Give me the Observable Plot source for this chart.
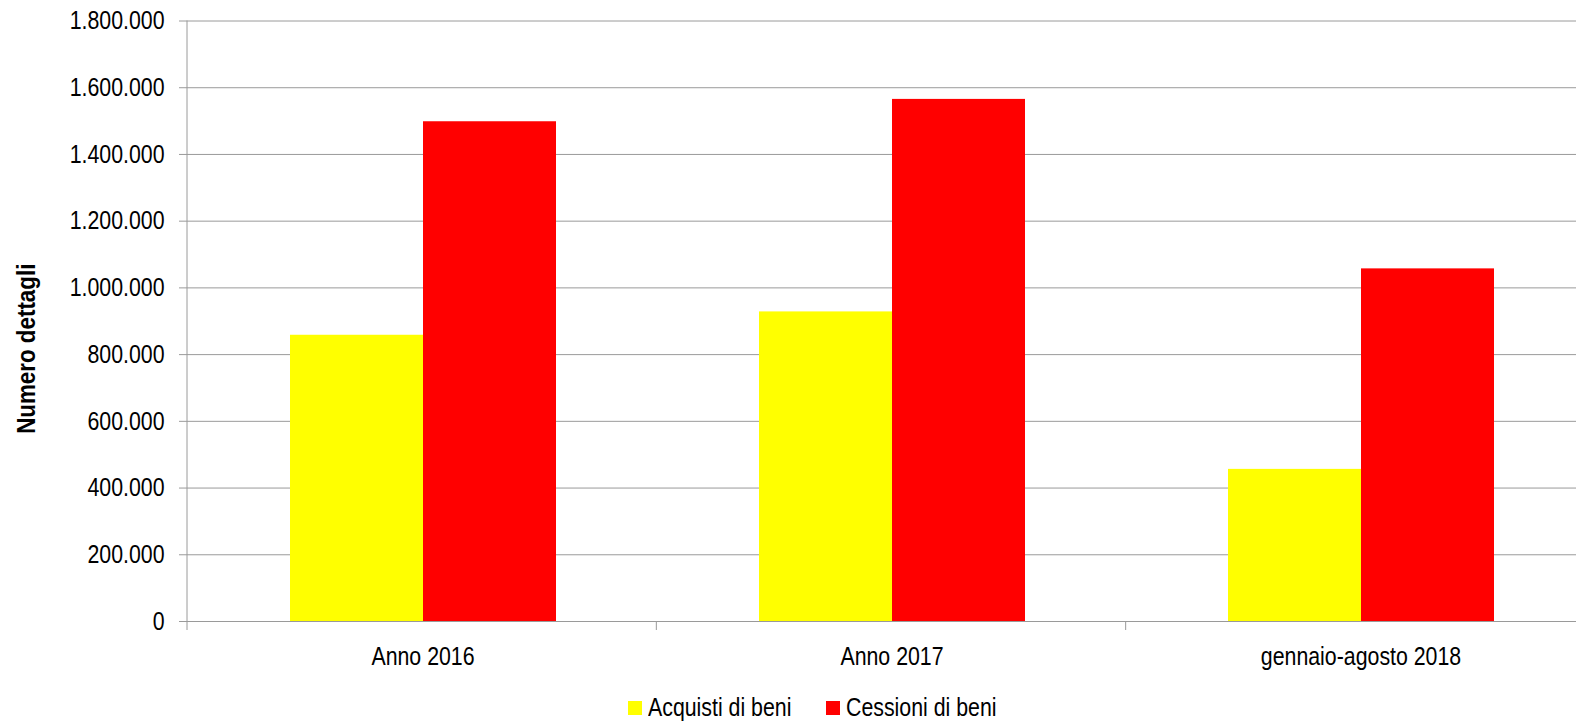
<!DOCTYPE html>
<html>
<head>
<meta charset="utf-8">
<script src="https://cdn.jsdelivr.net/npm/d3@7"></script>
<script src="https://cdn.jsdelivr.net/npm/@observablehq/plot@0.6"></script>
<style>
  html, body { margin: 0; padding: 0; background: #fff; overflow: hidden; width: 1576px; height: 723px; }
  #wrap { position: relative; width: 1576px; height: 723px; overflow: hidden; }
  #chart { position: absolute; left: 0; top: 0; width: 1576px; height: 690px; overflow: hidden; }
  #legend { position: absolute; left: 0; top: 690px; width: 1576px; height: 33px;
    font-family: "Liberation Sans", Arial, sans-serif; font-size: 26px; color: #000; }
  .item { position: absolute; top: 1px; height: 33px; display: flex; align-items: center; white-space: nowrap; }
  .sw { width: 14px; height: 14px; display: inline-block; margin-right: 6px; flex: none; }
  .lt { display: inline-block; transform: scaleX(0.82); transform-origin: left center; line-height: 33px; }
</style>
</head>
<body>
<div id="wrap">
  <div id="chart"></div>
  <div id="legend"></div>
</div>
<script>
const categories = ["Anno 2016", "Anno 2017", "gennaio-agosto 2018"];
const series = ["Acquisti di beni", "Cessioni di beni"];
const acquisti = [858000, 928000, 456000];
const cessioni = [1498000, 1565000, 1057000];
const colors = ["#FFFF00", "#FF0000"];
const yTicks = [0, 200000, 400000, 600000, 800000, 1000000, 1200000, 1400000, 1600000, 1800000];
const yLabel = "Numero dettagli";

const data = [];
categories.forEach((c, i) => {
  data.push({cat: c, series: series[0], value: acquisti[i]});
  data.push({cat: c, series: series[1], value: cessioni[i]});
});

const it = d3.formatLocale({decimal: ",", thousands: ".", grouping: [3], currency: ["€", ""]});
const fmt = it.format(",d");
const FONT = "'Liberation Sans', Arial, sans-serif";
const GRID = "#9a9a9a";
const NARROW = 0.82; // Arial Narrow look

const plot = Plot.plot({
  width: 1595,
  height: 690,
  marginLeft: 187,
  marginRight: 0,
  marginTop: 20.5,
  marginBottom: 69,
  style: {fontFamily: FONT, fontSize: "26px", color: "#000", background: "#fff", overflow: "visible", maxWidth: "none"},
  fx: {domain: categories, padding: 0, label: null},
  x: {domain: series, paddingInner: 0, paddingOuter: 0.751, axis: null},
  y: {domain: [0, 1800000], label: null},
  color: {domain: series, range: colors},
  marks: [
    Plot.gridY(yTicks, {stroke: GRID, strokeOpacity: 1, strokeWidth: 1}),
    Plot.barY(data, {fx: "cat", x: "series", y: "value", fill: "series"}),
    Plot.axisY(yTicks, {tickSize: 9, tickPadding: 15, tickFormat: fmt, stroke: GRID, label: null, fill: "#000"}),
    Plot.axisFx({anchor: "bottom", tickSize: 0, tickPadding: 25, label: null, fill: "#000"})
  ]
});
plot.style.maxWidth = "none";
plot.style.height = "690px";
plot.style.width = "1595px";

// Excel-style axis line and category boundary ticks, from the library's scales
const svg = d3.select(plot);
const fxScale = plot.scale("fx");
const yScale = plot.scale("y");
const [r0, r1] = fxScale.range;
const y0 = yScale.range[0], yTop = yScale.range[1];
const n = categories.length;
const g = svg.append("g").attr("stroke", GRID).attr("stroke-width", 1);
g.append("line").attr("x1", r0).attr("x2", r0).attr("y1", yTop).attr("y2", y0 + 9);
for (let i = 1; i <= n; i++) {
  const x = r0 + i * (r1 - r0) / n;
  g.append("line").attr("x1", x).attr("x2", x).attr("y1", y0).attr("y2", y0 + 9);
}
// y axis title
const title = svg.append("text")
  .attr("transform", `translate(35,${(y0 + yTop) / 2 + 28}) rotate(-90)`)
  .attr("text-anchor", "middle")
  .attr("font-family", FONT)
  .attr("font-size", 26)
  .attr("font-weight", "bold")
  .attr("fill", "#000")
  .attr("class", "ytitle")
  .text(yLabel);

document.getElementById("chart").appendChild(plot);

// condense all text horizontally (Arial Narrow look)
svg.selectAll("text").each(function() {
  const len = this.getComputedTextLength();
  const k = this.getAttribute("class") === "ytitle" ? 0.86 : NARROW;
  if (len > 0) {
    this.setAttribute("textLength", (len * k).toFixed(2));
    this.setAttribute("lengthAdjust", "spacingAndGlyphs");
  }
});

// legend
const legend = document.getElementById("legend");
const legendLeft = [628, 826];
series.forEach((s, i) => {
  const item = document.createElement("div");
  item.className = "item";
  item.style.left = legendLeft[i] + "px";
  const sw = document.createElement("span");
  sw.className = "sw";
  sw.style.background = colors[i];
  const t = document.createElement("span");
  t.className = "lt";
  t.textContent = s;
  item.appendChild(sw);
  item.appendChild(t);
  legend.appendChild(item);
});
</script>
</body>
</html>
